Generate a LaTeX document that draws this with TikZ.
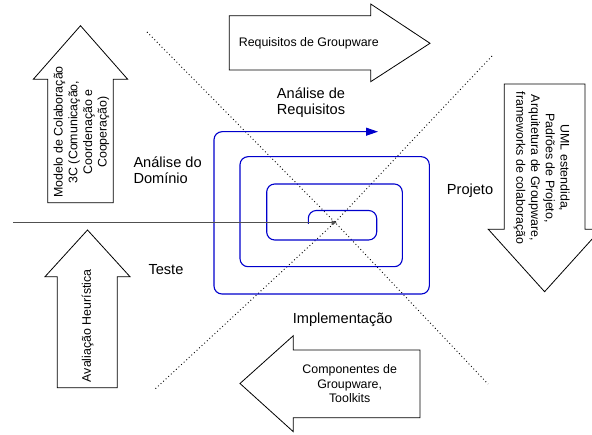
\documentclass[tikz,border=0pt]{standalone}
\usepackage{fontspec}
\setmainfont{Liberation Sans}
\usetikzlibrary{arrows.meta}
\definecolor{spblue}{RGB}{0,0,204}
\definecolor{axisgray}{RGB}{80,80,80}
\begin{document}
\begin{tikzpicture}[x=1pt,y=-1pt,
  bigarrow/.style={draw=black, line width=0.8pt, fill=white, line join=miter},
  lbl/.style={font=\fontsize{14.6}{16.6}\selectfont, inner sep=0pt},
  atxt/.style={font=\fontsize{12.4}{14.7}\selectfont, inner sep=0pt, align=center},
  guide/.style={dash pattern=on 0.9pt off 2.6pt, line width=0.9pt},
  spiral/.style={draw=spblue, line width=1.1pt, rounded corners=8pt}
]
\useasboundingbox (0,0) rectangle (592,435);

% dotted diagonals
\coordinate (d1a) at (147,32);
\coordinate (d1b) at (488,384);
\coordinate (x0) at (335,222.3);
\coordinate (d2a) at (492,56);
\coordinate (d2b) at (154,390);
\draw[guide] (d1a) -- (x0) -- (d1b);
\draw[guide] (d2a) -- (x0) -- (d2b);

% block arrows
\draw[bigarrow] (229.3,15.7) -- (370.7,15.7) -- (370.7,4) -- (430,43.3) -- (370.7,81.7) -- (370.7,70) -- (229.3,70) -- cycle;
\node[atxt] (rg) at (308.8,43.3) {Requisitos de Groupware};

\draw[bigarrow] (80.5,25.7) -- (127.7,79.3) -- (113.3,79.3) -- (113.3,202.7) -- (47.7,202.7) -- (47.7,79.3) -- (33.3,79.3) -- cycle;
\node[atxt, rotate=90] (mc) at (81.5,132) {Modelo de Colaboração\\3C (Comunicação,\\Coordenação e\\Cooperação)};

\draw[bigarrow] (87.5,230) -- (130,276.7) -- (117.3,276.7) -- (117.3,387.7) -- (57.3,387.7) -- (57.3,276.7) -- (45,276.7) -- cycle;
\node[atxt, rotate=90] (ah) at (87.5,325.8) {Avaliação Heurística};

\draw[bigarrow] (504.3,84) -- (585,84) -- (585,229.3) -- (600.9,229.3) -- (544.6,291.7) -- (488.3,229.3) -- (504.3,229.3) -- cycle;
\node[atxt, rotate=-90] (uml) at (541.7,168) {UML estendida,\\Padrões de Projeto,\\Arquitetura de Groupware,\\frameworks de colaboração};

\draw[bigarrow] (240,383.5) -- (293.3,335.7) -- (293.3,350) -- (420,350) -- (420,417.7) -- (293.3,417.7) -- (293.3,431.7) -- cycle;
\node[atxt] (cg) at (349.7,383.8) {Componentes de\\Groupware,\\Toolkits};

% spiral
\draw[spiral, -{Triangle[length=12pt,width=8pt]}] (308.3,224) -- (308.3,210.5) -- (376.7,210.5) -- (376.7,240) -- (266.7,240) -- (266.7,184) -- (402.3,184) -- (402.3,266.7) -- (240,266.7) -- (240,156.7) -- (429.3,156.7) -- (429.3,294) -- (214,294) -- (214,131.7) -- (378,131.7);

% horizontal axis
\coordinate (hl) at (13.3,222.7);
\coordinate (hc) at (336.7,222.7);
\draw[line width=1.2pt, draw=axisgray, -{Triangle[length=5pt,width=4pt]}] (hl) -- (hc);

% phase labels
\node[lbl, align=center] (ar) at (311,102.5) {Análise de\\Requisitos};
\node[lbl, align=left, anchor=west] (ad) at (133.3,170) {Análise do\\Domínio};
\node[lbl, anchor=west] (pj) at (446.7,191) {Projeto};
\node[lbl, anchor=west] (ts) at (148.3,270) {Teste};
\node[lbl] (im) at (342.7,319.3) {Implementação};
\end{tikzpicture}
\end{document}
